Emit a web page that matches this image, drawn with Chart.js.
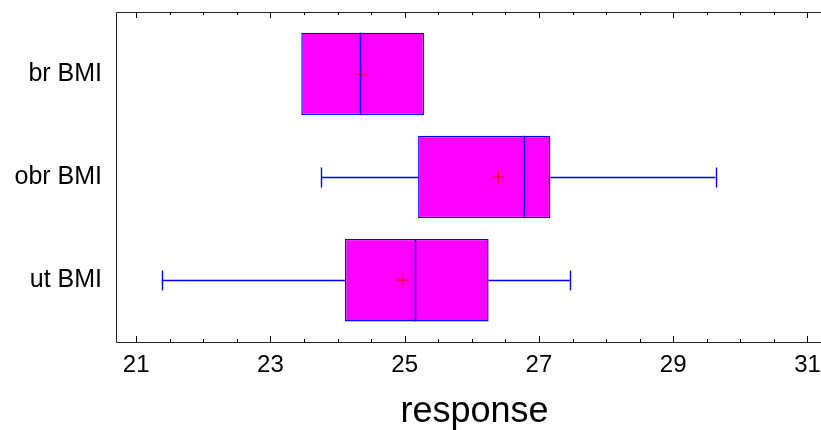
<!DOCTYPE html>
<html><head><meta charset="utf-8">
<script src="https://cdn.jsdelivr.net/npm/chart.js@4"></script>
<style>html,body{margin:0;padding:0;background:#fff;overflow:hidden}#wrap{width:821px;height:430px;overflow:hidden}#inner{width:840px;height:430px}</style>
</head><body><div id="wrap"><div id="inner"><canvas id="c"></canvas></div></div>
<script>
const categories = ['br BMI', 'obr BMI', 'ut BMI'];
const mins    = [23.46, 23.76, 21.38];
const q1s     = [23.46, 25.20, 24.11];
const medians = [24.34, 26.77, 25.16];
const q3s     = [25.29, 27.17, 26.25];
const maxs    = [25.29, 29.63, 27.46];
const means   = [24.36, 26.40, 24.96];
const xTickValues = [21, 23, 25, 27, 29, 31];
const minorStep = 0.5;

const FONT = "'Liberation Sans', Arial, sans-serif";
const BOX_FILL = '#ff00ff', BOX_EDGE = '#0000ff', MEAN_COL = '#ff0000', FRAME = '#222222';

const boxPlugin = {
  id: 'boxExtras',
  beforeDatasetsDraw(chart) {
    const {ctx, scales: {x, y}} = chart;
    ctx.save();
    ctx.strokeStyle = BOX_EDGE; ctx.lineWidth = 1.4;
    categories.forEach((c, i) => {
      const yc = Math.floor(y.getPixelForValue(i + 1)) + 0.5;
      const cap = 10;
      [[mins[i], q1s[i]], [q3s[i], maxs[i]]].forEach(([a, b]) => {
        if (Math.abs(b - a) < 1e-9) return;
        ctx.beginPath();
        ctx.moveTo(x.getPixelForValue(a), yc); ctx.lineTo(x.getPixelForValue(b), yc); ctx.stroke();
      });
      [[mins[i], q1s[i]], [maxs[i], q3s[i]]].forEach(([v, edge]) => {
        if (Math.abs(v - edge) < 1e-9) return;
        const px = Math.round(x.getPixelForValue(v)) + 0.5;
        ctx.beginPath(); ctx.moveTo(px, yc - cap); ctx.lineTo(px, yc + cap); ctx.stroke();
      });
    });
    ctx.restore();
  },
  afterDatasetDraw(chart, args) {
    if (args.index !== 0) return;
    const {ctx, scales: {x}} = chart;
    const meta = chart.getDatasetMeta(0);
    ctx.save();
    ctx.strokeStyle = BOX_EDGE; ctx.lineWidth = 1.4;
    meta.data.forEach((bar, i) => {
      const px = Math.round(x.getPixelForValue(medians[i])) + 0.5;
      const h = bar.height / 2;
      ctx.beginPath(); ctx.moveTo(px, bar.y - h); ctx.lineTo(px, bar.y + h); ctx.stroke();
    });
    ctx.restore();
  },
  afterDraw(chart) {
    const {ctx, chartArea: a, scales: {x}} = chart;
    const L = Math.round(a.left) + 0.5, T = Math.round(a.top) + 0.5, B = Math.round(a.bottom) + 0.5, R = chart.width;
    ctx.save();
    ctx.strokeStyle = FRAME; ctx.lineWidth = 1;
    ctx.beginPath();
    ctx.moveTo(R, T); ctx.lineTo(L, T); ctx.lineTo(L, B); ctx.lineTo(R, B);
    ctx.stroke();
    ctx.strokeStyle = '#000';
    for (let v = Math.ceil(x.min / minorStep) * minorStep; v <= x.max + 1e-9; v += minorStep) {
      const major = xTickValues.includes(Math.round(v * 100) / 100);
      const len = major ? 6 : 3;
      const px = Math.round(x.getPixelForValue(v)) + 0.5;
      ctx.beginPath();
      ctx.moveTo(px, a.bottom); ctx.lineTo(px, a.bottom - len);
      ctx.moveTo(px, a.top); ctx.lineTo(px, a.top + len);
      ctx.stroke();
    }
    ctx.restore();
  }
};

const zeroPad = s => { s.paddingLeft = 0; s.paddingRight = 0; s.paddingTop = 0; s.paddingBottom = 0; };

new Chart(document.getElementById('c'), {
  type: 'bar',
  data: {
    datasets: [
      {type: 'bar', label: 'box', order: 1, indexAxis: 'y',
       data: categories.map((c, i) => ({y: i + 1, x: [q1s[i], q3s[i]]})),
       backgroundColor: BOX_FILL, borderColor: BOX_EDGE, borderWidth: 1.4, borderSkipped: false,
       barPercentage: 0.8, categoryPercentage: 1.0},
      {type: 'scatter', label: 'mean', order: 0, data: categories.map((c, i) => ({x: means[i], y: i + 1})),
       pointStyle: 'cross', radius: 6, borderColor: MEAN_COL, backgroundColor: MEAN_COL, borderWidth: 1}
    ]
  },
  options: {
    indexAxis: 'y',
    responsive: true, maintainAspectRatio: false, animation: false,
    layout: {padding: {top: 12, right: 0, left: 0, bottom: 0}},
    plugins: {legend: {display: false}, tooltip: {enabled: false}},
    scales: {
      x: {
        type: 'linear', position: 'bottom', min: 20.7, max: 31.38,
        grid: {display: false, drawTicks: false},
        border: {display: false},
        afterBuildTicks: s => { s.ticks = xTickValues.map(v => ({value: v})); },
        afterFit: s => { s.height = 88; zeroPad(s); },
        ticks: {font: {family: FONT, size: 24}, color: '#000', padding: 9, maxRotation: 0},
        title: {display: true, text: 'response', font: {family: FONT, size: 36, lineHeight: 1.0}, color: '#000', padding: {top: 0, bottom: 0}}
      },
      y: {
        type: 'linear', position: 'left', reverse: true, min: 0.4, max: 3.6, offset: false,
        grid: {display: false, drawTicks: false},
        border: {display: false},
        afterBuildTicks: s => { s.ticks = categories.map((c, i) => ({value: i + 1})); },
        afterFit: s => { s.width = 116; zeroPad(s); },
        ticks: {font: {family: FONT, size: 25}, color: '#000', padding: 14, callback: v => categories[v - 1] || ''}
      }
    }
  },
  plugins: [boxPlugin]
});
</script>
</body></html>
